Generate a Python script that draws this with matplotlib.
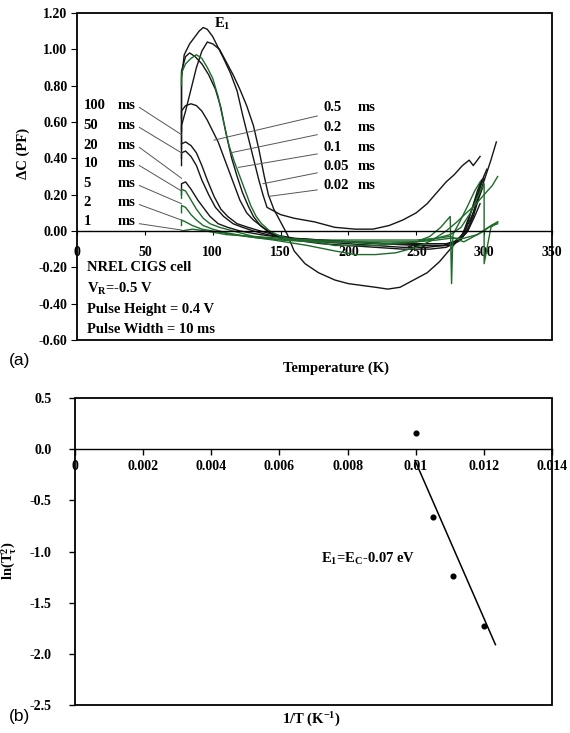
import numpy as np
import matplotlib
matplotlib.use('Agg')
import matplotlib.pyplot as plt
from matplotlib.patches import Rectangle
from matplotlib.ticker import FuncFormatter

plt.rcParams['font.family'] = ['Liberation Serif', 'DejaVu Serif']
plt.rcParams['font.weight'] = 'bold'
plt.rcParams['mathtext.fontset'] = 'custom'
plt.rcParams['mathtext.rm'] = 'Liberation Serif:bold'
plt.rcParams['mathtext.it'] = 'Liberation Serif:bold'
plt.rcParams['mathtext.bf'] = 'Liberation Serif:bold'

BLACK = '#151515'
GREEN = '#1e6a2a'

# ---- panel (a): DLTS spectra, temperature (K) vs delta C (pF)
t_002 = [77, 77, 80, 84, 88, 92, 96, 100, 105, 110, 115, 120, 125, 130, 134, 138, 141, 145, 150, 155,
         160, 168, 178, 190, 200, 210, 220, 229, 238, 248, 258, 267, 275, 282, 287, 292, 297, 301, 305, 309]
dc_002 = [0.45, 0.58, 0.66, 0.78, 0.90, 0.99, 1.04, 1.03, 1.00, 0.93, 0.86, 0.78, 0.69, 0.58, 0.45, 0.30, 0.20, 0.12, 0.05, -0.02,
          -0.11, -0.18, -0.23, -0.27, -0.29, -0.30, -0.31, -0.32, -0.31, -0.27, -0.23, -0.17, -0.10, -0.04, 0.02, 0.10, 0.21, 0.30, 0.39, 0.49]

t_005 = [77, 77, 79, 83, 87, 90, 93, 96, 100, 104, 108, 113, 118, 122, 126, 130, 134, 137, 140, 145, 150, 160,
         175, 190, 205, 218, 230, 240, 250, 258, 265, 272, 278, 284, 289, 292, 294, 297]
dc_005 = [0.55, 0.84, 0.97, 1.03, 1.07, 1.10, 1.12, 1.11, 1.07, 1.01, 0.95, 0.87, 0.77, 0.64, 0.52, 0.40, 0.28, 0.20, 0.13, 0.11, 0.09, 0.07,
          0.05, 0.02, 0.01, 0.01, 0.03, 0.06, 0.10, 0.15, 0.21, 0.27, 0.31, 0.36, 0.39, 0.36, 0.38, 0.41]

t_01 = [77, 77, 80, 84, 88, 92, 96, 100, 104, 108, 112, 116, 120, 124, 128, 132, 136, 142, 150, 160, 175,
        190, 205, 220, 235, 250, 260, 268, 275, 276, 277, 282, 288, 293, 297]
dc_01 = [0.80, 0.87, 0.92, 0.95, 0.97, 0.95, 0.90, 0.84, 0.74, 0.60, 0.47, 0.38, 0.30, 0.22, 0.14, 0.08, 0.04, 0.00, -0.03, -0.05, -0.06,
         -0.08, -0.08, -0.08, -0.07, -0.06, -0.03, 0.02, 0.08, -0.29, -0.02, 0.05, 0.14, 0.22, 0.27]

t_02 = [77, 77, 80, 83, 87, 92, 97, 102, 106, 110, 114, 118, 122, 126, 130, 135, 142, 150, 165, 180,
        200, 220, 240, 258, 270, 278, 284, 289, 294, 298, 300]
dc_02 = [0.62, 0.88, 0.96, 0.98, 0.96, 0.92, 0.86, 0.78, 0.68, 0.53, 0.40, 0.30, 0.21, 0.14, 0.08, 0.03, -0.01, -0.04, -0.05, -0.06,
         -0.07, -0.08, -0.09, -0.09, -0.08, -0.06, -0.02, 0.08, 0.18, 0.26, 0.29]

t_05 = [77, 77, 80, 84, 88, 92, 96, 100, 104, 108, 112, 116, 120, 125, 130, 137, 145, 160, 180, 200,
        220, 240, 260, 272, 280, 286, 291, 295, 298]
dc_05 = [0.48, 0.66, 0.69, 0.70, 0.69, 0.66, 0.61, 0.55, 0.49, 0.41, 0.33, 0.25, 0.17, 0.10, 0.06, 0.02, -0.02, -0.05, -0.07, -0.08,
         -0.09, -0.10, -0.10, -0.09, -0.06, 0.00, 0.12, 0.22, 0.28]

t_1 = [77, 85, 95, 110, 130, 150, 175, 200, 225, 250, 265, 275, 285, 295, 303, 310]
dc_1 = [0.00, 0.01, 0.00, -0.02, -0.03, -0.04, -0.05, -0.05, -0.05, -0.05, -0.04, -0.03, -0.06, -0.02, 0.02, 0.04]

t_2 = [77, 77, 80, 85, 92, 100, 115, 135, 160, 190, 220, 250, 265, 275, 285, 295, 300, 305, 310]
dc_2 = [0.03, 0.06, 0.05, 0.03, 0.01, 0.00, -0.02, -0.04, -0.05, -0.06, -0.06, -0.06, -0.05, -0.04, -0.04, -0.02, 0.00, 0.03, 0.05]

t_5 = [77, 77, 80, 84, 88, 93, 100, 110, 125, 145, 170, 190, 205, 220, 235, 250, 262, 272, 280, 287, 293, 300, 306, 310]
dc_5 = [0.10, 0.14, 0.13, 0.09, 0.06, 0.03, 0.01, -0.01, -0.03, -0.05, -0.08, -0.11, -0.13, -0.13, -0.12, -0.09, -0.05, 0.00, 0.05, 0.10, 0.14, 0.20, 0.25, 0.30]

t_10 = [77, 77, 80, 84, 88, 93, 98, 105, 115, 130, 150, 175, 200, 225, 250, 265, 275, 283, 290, 296, 300, 300, 305, 310]
dc_10 = [0.18, 0.23, 0.22, 0.17, 0.12, 0.07, 0.04, 0.02, 0.00, -0.03, -0.05, -0.06, -0.06, -0.07, -0.06, -0.04, -0.02, 0.02, 0.10, 0.20, 0.26, -0.18, 0.02, 0.05]

t_20 = [77, 77, 80, 84, 89, 94, 98, 104, 111, 120, 135, 155, 180, 205, 230, 255, 272, 282, 288, 293, 297]
dc_20 = [0.20, 0.26, 0.27, 0.23, 0.17, 0.12, 0.08, 0.04, 0.02, 0.00, -0.02, -0.04, -0.05, -0.06, -0.07, -0.07, -0.07, -0.05, 0.00, 0.08, 0.15]

t_50 = [77, 77, 80, 84, 88, 92, 97, 102, 108, 115, 122, 130, 140, 155, 175, 200, 225, 250, 270, 280, 287, 292, 296, 299]
dc_50 = [0.36, 0.43, 0.44, 0.41, 0.36, 0.28, 0.20, 0.13, 0.08, 0.04, 0.02, 0.00, -0.02, -0.04, -0.05, -0.06, -0.07, -0.08, -0.08, -0.06, -0.01, 0.08, 0.18, 0.24]

t_100 = [77, 77, 80, 84, 88, 92, 96, 101, 106, 111, 118, 126, 135, 145, 160, 180, 200, 220, 240, 260, 275, 283, 289, 294, 298, 302]
dc_100 = [0.40, 0.48, 0.49, 0.47, 0.43, 0.36, 0.28, 0.19, 0.12, 0.08, 0.04, 0.02, 0.00, -0.02, -0.04, -0.05, -0.06, -0.07, -0.07, -0.08, -0.08, -0.05, 0.03, 0.15, 0.27, 0.34]

# labels and where their leader lines point
left_labels = ['100', '50', '20', '10', '5', '2', '1']
left_label_y = [0.69, 0.58, 0.47, 0.37, 0.26, 0.155, 0.05]
left_lead_end_y = [0.53, 0.43, 0.29, 0.22, 0.15, 0.06, 0.005]
right_labels = ['0.5', '0.2', '0.1', '0.05', '0.02']
right_label_y = [0.677, 0.57, 0.46, 0.355, 0.25]
right_lead_start_y = [0.633, 0.53, 0.424, 0.32, 0.226]
right_lead_end_t = [101, 113, 119, 137, 141]
right_lead_end_y = [0.50, 0.43, 0.35, 0.26, 0.19]

info_lines = ['NREL CIGS cell', 'V$_\\mathrm{R}$=-0.5 V', 'Pulse Height = 0.4 V', 'Pulse Width = 10 ms']
info_y = [-0.20, -0.32, -0.435, -0.54]

# ---- panel (b): Arrhenius plot
inv_t = [0.0100, 0.0105, 0.0111, 0.0120]
ln_t2tau = [0.155, -0.66, -1.24, -1.73]
fit_x = [0.00998, 0.01234]
fit_y = [-0.11, -1.91]

curves = [
    (t_005, dc_005, BLACK), (t_002, dc_002, BLACK), (t_02, dc_02, BLACK),
    (t_05, dc_05, BLACK), (t_100, dc_100, BLACK), (t_50, dc_50, BLACK),
    (t_20, dc_20, BLACK), (t_01, dc_01, GREEN), (t_10, dc_10, GREEN),
    (t_5, dc_5, GREEN), (t_2, dc_2, GREEN), (t_1, dc_1, GREEN),
]

fig = plt.figure(figsize=(5.7, 7.33), dpi=100)
ax1 = fig.add_axes([0.1351, 0.5362, 0.8333, 0.4461])
ax2 = fig.add_axes([0.1316, 0.0382, 0.8368, 0.4188])

fs = 10      # tick labels
fa = 10.5    # annotations

def frame(ax):
    for s in ['top', 'right', 'left']:
        ax.spines[s].set_visible(False)
    ax.spines['bottom'].set_position(('data', 0))
    ax.spines['bottom'].set_linewidth(1.0)
    ax.add_patch(Rectangle((0, 0), 1, 1, transform=ax.transAxes, fill=False,
                           edgecolor='black', linewidth=1.3, zorder=5, clip_on=False))

# panel (a)
for t, dc, col in curves:
    ax1.plot(t, dc, color=col, linewidth=1.0)

for lab, ly, ey in zip(left_labels, left_label_y, left_lead_end_y):
    ax1.plot([46, 77], [ly - 0.01, ey], color='#555555', linewidth=0.7)
    ax1.text(5, ly, lab, fontsize=fa, va='center', ha='left')
    ax1.text(30, ly, 'ms', fontsize=fa, va='center', ha='left')

for lab, ly, sy, et, ey in zip(right_labels, right_label_y, right_lead_start_y,
                               right_lead_end_t, right_lead_end_y):
    ax1.plot([177, et], [sy, ey], color='#555555', linewidth=0.7)
    ax1.text(182, ly, lab, fontsize=fa, va='center', ha='left')
    ax1.text(207, ly, 'ms', fontsize=fa, va='center', ha='left')

for txt, y in zip(info_lines, info_y):
    ax1.text(7, y, txt, fontsize=fa, va='center', ha='left')

ax1.text(101, 1.14, 'E$_1$', fontsize=fa, va='center', ha='left')

ax1.set_xlim(0, 350)
ax1.set_ylim(-0.6, 1.2)
ax1.set_xticks(np.arange(0, 351, 50))
ax1.set_yticks(np.arange(-0.6, 1.21, 0.2))
ax1.yaxis.set_major_formatter(FuncFormatter(lambda v, p: f'{v:.2f}'))
frame(ax1)
ax1.tick_params(axis='x', direction='out', length=3, width=0.8, pad=8, labelsize=fs)
ax1.tick_params(axis='y', direction='out', length=4, width=0.8, pad=3, labelsize=fs)
ax1.set_ylabel('ΔC (PF)', fontsize=fa, fontweight='bold')
ax1.yaxis.set_label_coords(-0.1, 0.57)
ax1.set_xlabel('Temperature (K)', fontsize=fa, fontweight='bold')
ax1.xaxis.label.set_va('center')
ax1.xaxis.set_label_coords(0.545, -0.085)

# panel (b)
ax2.plot(inv_t, ln_t2tau, 'o', color='black', markersize=3.4)
ax2.plot(fit_x, fit_y, color='black', linewidth=1.1)
ax2.text(0.00722, -1.07, 'E$_1$=E$_\\mathrm{C}$-0.07 eV', fontsize=fa, va='center', ha='left')
ax2.set_xlim(0, 0.014)
ax2.set_ylim(-2.5, 0.5)
ax2.set_xticks(np.arange(0, 0.0141, 0.002))
ax2.set_yticks(np.arange(-2.5, 0.51, 0.5))
ax2.xaxis.set_major_formatter(FuncFormatter(lambda v, p: f'{round(v, 4):g}'))
ax2.yaxis.set_major_formatter(FuncFormatter(lambda v, p: f'{v:.1f}'))
frame(ax2)
ax2.tick_params(axis='x', direction='out', length=4, width=1.0, pad=4, labelsize=fs)
ax2.tick_params(axis='y', direction='out', length=4, width=1.0, pad=13, labelsize=fs)
ax2.set_ylabel('ln(T$^2_{\\tau}$)', fontsize=fa, fontweight='bold')
ax2.yaxis.set_label_coords(-0.12, 0.47)
ax2.set_xlabel('1/T (K$^{-1}$)', fontsize=fa, fontweight='bold')
ax2.xaxis.label.set_va('center')
ax2.xaxis.set_label_coords(0.495, -0.05)

fig.text(0.016, 1 - 360 / 733, '(a)', fontsize=12.5, family=['Liberation Sans'], fontweight='normal', va='center')
fig.text(0.016, 1 - 716 / 733, '(b)', fontsize=12.5, family=['Liberation Sans'], fontweight='normal', va='center')

fig.savefig('out.png', dpi=100)
